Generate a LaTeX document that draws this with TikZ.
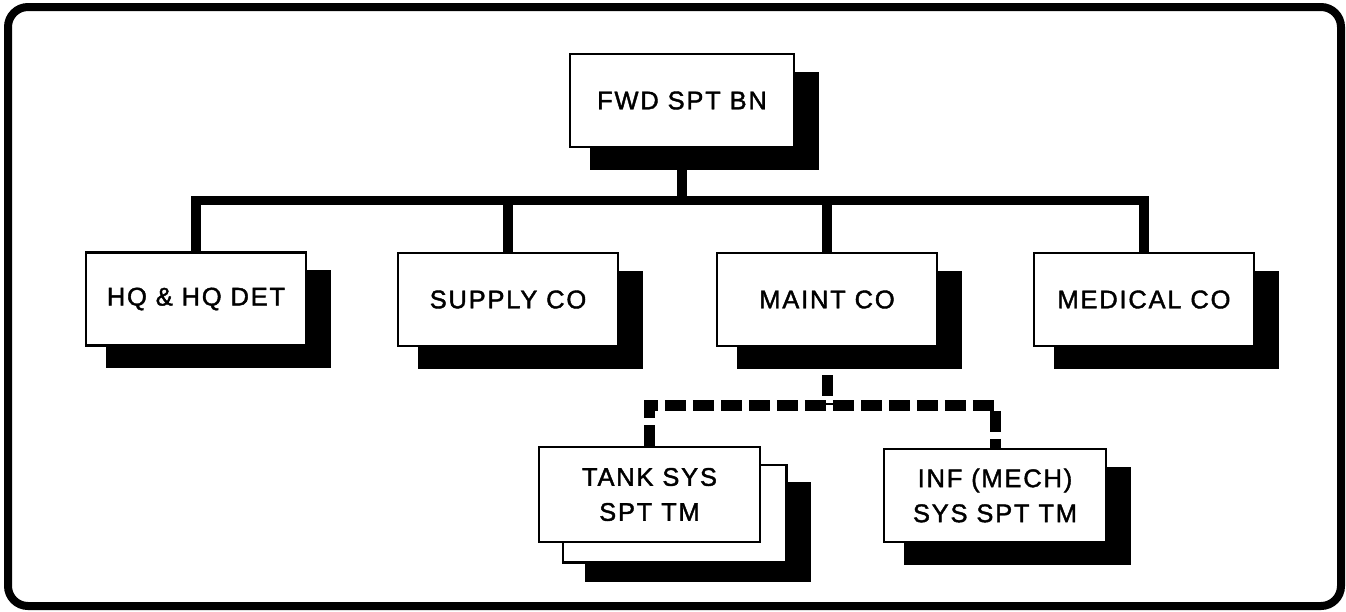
\documentclass[tikz,border=0pt]{standalone}
\usepackage{fontspec}
\newfontfamily\lab[LetterSpace=7,FakeBold=1.6]{Liberation Sans}
\usetikzlibrary{backgrounds}
\begin{document}
\begin{tikzpicture}[x=1pt,y=-1pt,
  box/.style={draw, line width=2.5pt, fill=white, minimum width=220pt, minimum height=93pt,
    inner sep=0pt, align=center, font=\lab\fontsize{25.5}{35}\selectfont},
  shadowbox/.style={fill=black, draw=black, line width=2.5pt},
  conn/.style={line width=9.5pt, line join=miter},
  dconn/.style={line width=11pt, dash pattern=on 21pt off 7pt},
  outerframe/.style={line width=8pt, rounded corners=20pt}]
\useasboundingbox (0,0) rectangle (1346,611);
\draw[outerframe] (8,7) rectangle (1341,606);

\node[box, minimum width=224pt] (top) at (682,100.5) {FWD SPT BN};
\node[box] (hq) at (196,299) {HQ \& HQ DET};
\node[box] (sup) at (508,299.5) {SUPPLY CO};
\node[box] (mnt) at (827,299.5) {MAINT CO};
\node[box] (med) at (1144,299.5) {MEDICAL CO};
\node[box, minimum width=221pt, minimum height=95pt] (tank) at (649.5,494.5) {TANK SYS\\SPT TM};
\node[box, minimum width=222pt] (inf) at (995,495.5) {INF (MECH)\\SYS SPT TM};

\begin{scope}[on background layer]
  \foreach \n in {top,hq,sup,mnt,med,inf}
    \filldraw[shadowbox] ([shift={(22,20)}]\n.north west) rectangle ([shift={(22,20)}]\n.south east);
  \filldraw[shadowbox] ([shift={(48,37)}]tank.north west) rectangle ([shift={(48,37)}]tank.south east);
  \draw[line width=2.5pt, fill=white] ([shift={(25,19)}]tank.north west) rectangle ([shift={(25,19)}]tank.south east);
\end{scope}

\coordinate (bus) at (682,200.5);
\coordinate (dj) at (826,405);
\draw[conn] (top.south) -- (top.south |- bus);
\draw[conn] (hq.north) -- (hq.north |- bus) -- (med.north |- bus) -- (med.north);
\draw[conn] (sup.north) -- (sup.north |- bus);
\draw[conn] (mnt.north) -- (mnt.north |- bus);

\draw[dconn] (mnt.south) -- (mnt.south |- dj);
\draw[dconn] (tank.north) -- (tank.north |- dj) -- (inf.north |- dj) -- (inf.north);
\end{tikzpicture}
\end{document}
